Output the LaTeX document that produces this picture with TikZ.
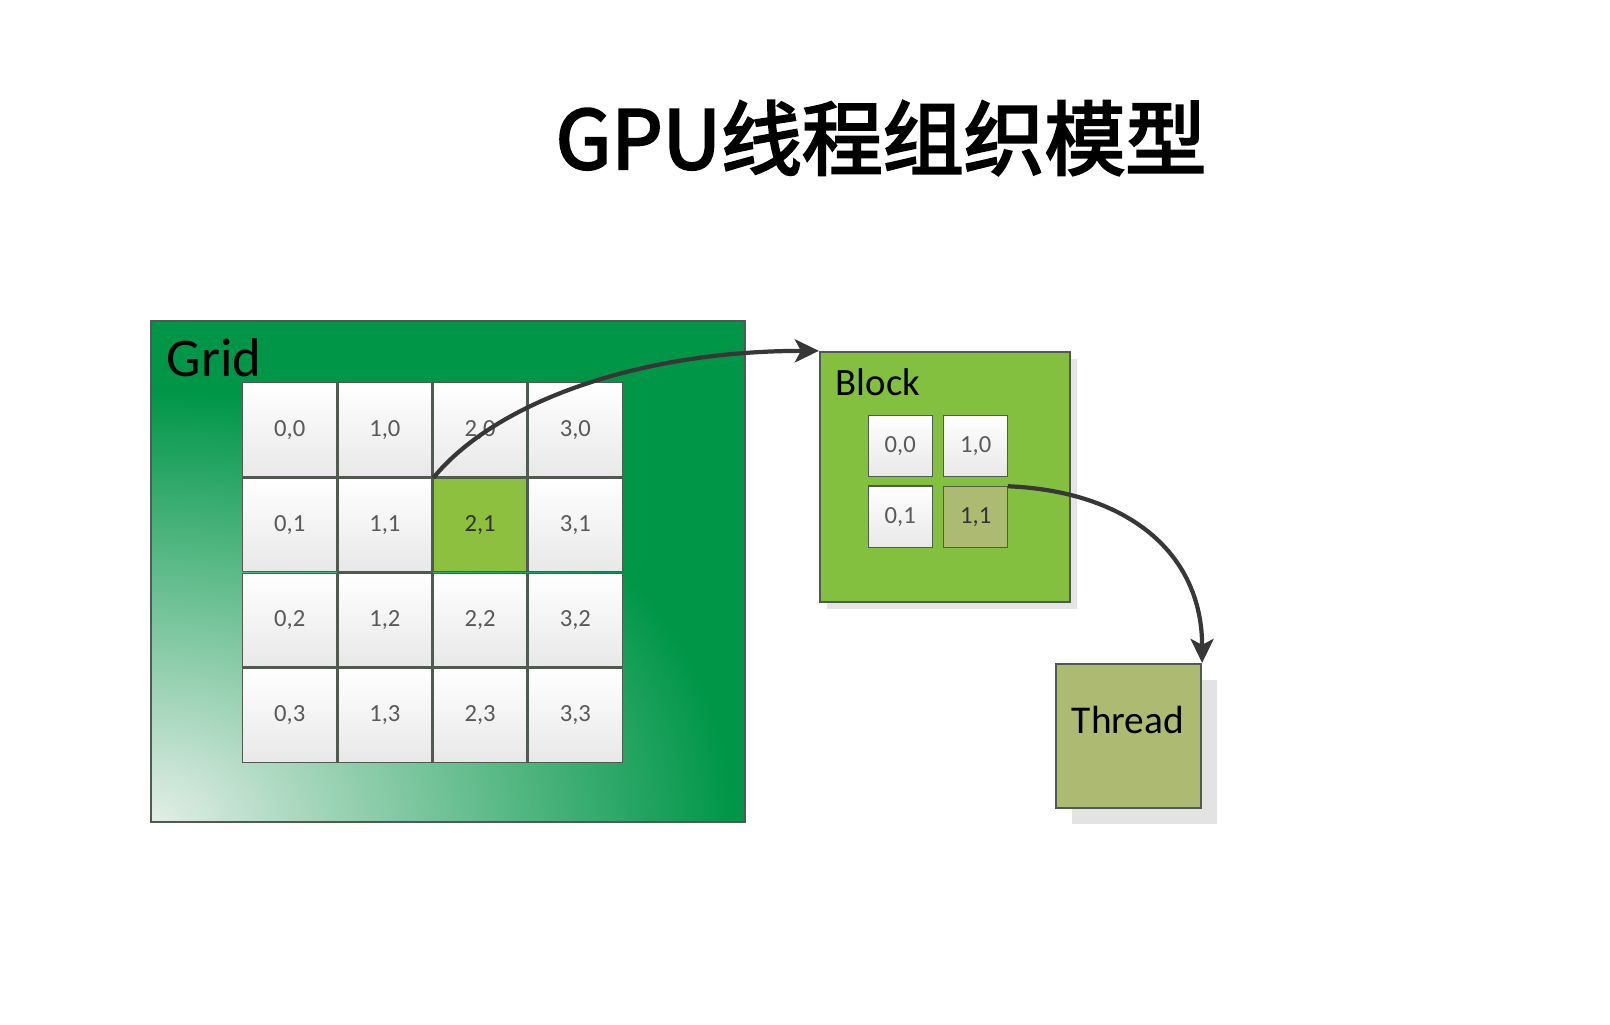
\documentclass[tikz,border=0pt]{standalone}
\usepackage{fontspec}
\setmainfont{Carlito}
\newfontfamily\cjk[FakeBold=3]{Noto Sans CJK SC}
\usetikzlibrary{matrix,shadows,arrows.meta}
\definecolor{gridgreen}{RGB}{0,150,72}
\definecolor{gridpale}{RGB}{228,238,231}
\definecolor{selgreen}{RGB}{140,192,62}
\definecolor{blockgreen}{RGB}{132,192,64}
\definecolor{threadolive}{RGB}{172,186,114}
\definecolor{edge}{RGB}{80,90,80}
\definecolor{arrowgray}{RGB}{55,55,55}
\pgfdeclareradialshading{gridglow}{\pgfpointorigin}
  {color(0bp)=(gridpale); color(12.5bp)=(gridgreen); color(50bp)=(gridgreen)}
\tikzset{
  cell/.style={draw=edge, line width=0.4pt, top color=white, bottom color=black!9,
    inner sep=0pt, outer sep=0pt, text=black!65, font=\fontsize{7}{7}\selectfont},
  sel/.style={top color=selgreen, bottom color=selgreen, text=black!80},
  box/.style={draw=edge, line width=0.6pt, inner sep=0pt},
  link/.style={draw=arrowgray, line width=1.2pt, -{Stealth[length=2.4mm,width=2.3mm,inset=0.6mm]}}
}
\begin{document}
\begin{tikzpicture}[x=0.01cm, y=-0.01cm]
\useasboundingbox[fill=white] (0,0) rectangle (1610,1025);

\node[font=\cjk\fontsize{23}{23}\selectfont] (title) at (881,138) {GPU线程组织模型};

% grid
\node[box, fill=gridgreen, minimum width=5.94cm, minimum height=5.01cm,
  path picture={\shade[shading=gridglow]
    (path picture bounding box.south west) ellipse (11.6cm and 8.6cm);}] (grid) at (448,571.5) {};
\node[font=\fontsize{15.5}{15.5}\selectfont, anchor=base west, inner sep=0pt] (gridlabel) at (166,377) {Grid};
\matrix (G) [matrix of nodes, nodes={cell, minimum size=0.9375cm}, column sep=0pt, row sep=0pt] at (432.5,572.5)
{
  0,0 & 1,0 & 2,0 & 3,0\\
  0,1 & 1,1 & |[sel]| 2,1 & 3,1\\
  0,2 & 1,2 & 2,2 & 3,2\\
  0,3 & 1,3 & 2,3 & 3,3\\
};

% block
\node[box, fill=blockgreen, minimum size=2.5cm,
  drop shadow={shadow xshift=0.07cm, shadow yshift=-0.07cm, opacity=0.2}] (block) at (945,477) {};
\node[font=\fontsize{11}{11}\selectfont, anchor=base west, inner sep=0pt] (blocklabel) at (835,396) {Block};
\matrix (B) [matrix of nodes, nodes={cell, minimum width=0.64cm, minimum height=0.615cm},
  column sep=0.1cm, row sep=0.08cm] at (938,481.5)
{
  0,0 & 1,0\\
  0,1 & |[top color=threadolive, bottom color=threadolive, text=black!80]| 1,1\\
};

% thread
\node[box, fill=threadolive, minimum width=1.45cm, minimum height=1.44cm,
  drop shadow={shadow xshift=0.16cm, shadow yshift=-0.16cm, fill=black!11, opacity=1}] (thread) at (1128.5,736) {};
\node[font=\fontsize{11.2}{11.2}\selectfont, anchor=base] (threadlabel) at (1128,733) {Thread};

\draw[link] (G-2-3.north west) .. controls +(63,-77) and +(-178,0) .. (block.north west);
\draw[link] (B-2-2.north east) .. controls +(120,5) and +(0,-110) .. (thread.north east);
\end{tikzpicture}
\end{document}
